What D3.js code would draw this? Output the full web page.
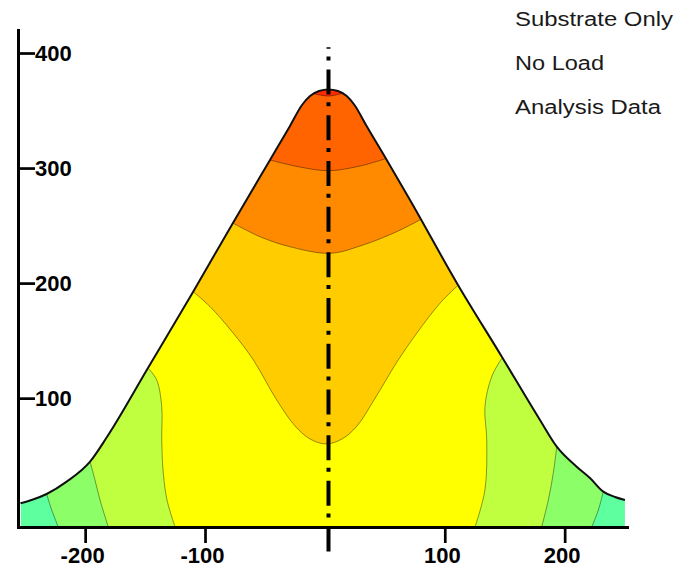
<!DOCTYPE html>
<html><head><meta charset="utf-8">
<script src="https://cdn.jsdelivr.net/npm/d3@7"></script>
<style>html,body{margin:0;padding:0;background:#fff;} svg{display:block;}</style>
</head><body>
<svg id="chart" width="682" height="570"></svg>
<script>
const xTicks = [-200, -100, 100, 200];
const yTicks = [100, 200, 300, 400];
const legendLines = ["Substrate Only", "No Load", "Analysis Data"];
const legendWidths = [158, 89, 146];
// band colours, lowest level first
const bandColors = ["#5dff9f", "#8cff68", "#bfff40", "#ffff00", "#ffcc00", "#ff8a00", "#ff6400", "#ff2a00"];
// outline of the substrate profile
const boundary = [[-253.9,8.6],[-243.5,11.9],[-232.1,16.7],[-215.4,27.4],[-195.9,44.8],[-181.8,66.2],[-147.6,126.2],[-110.0,192.3],[-76.7,252.2],[-45.8,307.0],[-29.1,336.6],[-19.1,354.8],[-12.4,362.6],[-4.9,367.0],[2.9,368.3],[10.9,367.0],[18.2,362.6],[24.7,354.8],[34.3,337.4],[51.6,307.0],[71.0,272.2],[111.0,198.4],[147.7,135.8],[179.4,81.0],[193.4,57.8],[210.0,40.4],[221.1,30.6],[232.2,18.7],[242.0,14.1],[250.3,11.5]];
// side contours (left / right, top to bottom)
const edge7Left = [[-232.1,16.7],[-227.9,2.8],[-222.4,-12]];
const edge7Right = [[232.2,18.7],[228.1,2.8],[222.6,-12]];
const edge6Left = [[-195.9,44.8],[-191.8,28.9],[-187.6,11.5],[-180.7,-12]];
const edge6Right = [[193.4,57.8],[190.5,34.7],[186.4,11.5],[180.8,-12]];
const edge5Left = [[-147.3,125.9],[-140.3,115.8],[-136.1,92.6],[-136.1,63.6],[-134.8,34.7],[-131.7,11.5],[-125.0,-12]];
const edge5Right = [[147.5,134.6],[139.1,118.6],[133.5,92.6],[135.0,63.6],[133.5,20.2],[125.2,-12]];
// arching contours (left edge to right edge)
const arch4 = [[-109.8,192.5],[-95.8,179.5],[-76.4,156.4],[-59.7,133.2],[-40.2,98.4],[-24.9,75.8],[-12.4,64.5],[0.9,60.2],[14.3,64.5],[26.8,75.8],[41.0,98.4],[60.1,131.4],[76.6,156.4],[96.0,182.5],[111.3,198.4]];
const arch3 = [[-76.4,252.0],[-54.1,240.3],[-29.1,231.6],[4.3,225.9],[31.8,233.1],[59.9,244.7],[79.3,254.9]];
const arch2 = [[-45.8,307.0],[-20.8,300.9],[3.4,297.7],[29.3,301.8],[51.6,308.5]];
const arch1 = [[-9.9,364.8],[3.4,362.6],[15.0,365.2]];
const centerLineX = 3;
const centerLineY = [405, -34];

const svg = d3.select("#chart");
const x = d3.scaleLinear().domain([-256, 252]).range([18, 627]);
const y = d3.scaleLinear().domain([-12, 420]).range([527, 30]);

const cLine = d3.line().x(d => x(d[0])).y(d => y(d[1])).curve(d3.curveCatmullRom.alpha(0.5));
const bLine = d3.line().x(d => x(d[0])).y(d => y(d[1])).curve(d3.curveMonotoneX);
const bArea = d3.area().x(d => x(d[0])).y0(y(-12)).y1(d => y(d[1])).curve(d3.curveMonotoneX);
const pt = p => `${x(p[0])},${y(p[1])}`;
const TOP = 430, BOT = -40;

function edgePath(left, right) {
  return "M" + pt([left[0][0], TOP]) +
    cLine(left).replace(/^M/, "L") +
    "L" + pt([left[left.length-1][0], BOT]) +
    "L" + pt([right[right.length-1][0], BOT]) +
    cLine(right.slice().reverse()).replace(/^M/, "L") +
    "L" + pt([right[0][0], TOP]) + "Z";
}
function archPath(p) {
  const a = p[0], b = p[p.length-1];
  return "M" + pt([a[0]-60, a[1]]) + cLine(p).replace(/^M/, "L") +
    "L" + pt([b[0]+60, b[1]]) + "L" + pt([b[0]+60, TOP]) + "L" + pt([a[0]-60, TOP]) + "Z";
}

svg.append("defs").append("clipPath").attr("id", "prof")
  .append("path").attr("d", bArea(boundary));

const plot = svg.append("g").attr("clip-path", "url(#prof)");
plot.append("path").attr("d", bArea(boundary)).attr("fill", bandColors[0]);
const regions = [
  edgePath(edge7Left, edge7Right),
  edgePath(edge6Left, edge6Right),
  edgePath(edge5Left, edge5Right),
  archPath(arch4), archPath(arch3), archPath(arch2), archPath(arch1)
];
regions.forEach((d, i) => plot.append("path").attr("d", d).attr("fill", bandColors[i+1]));

[edge7Left, edge7Right, edge6Left, edge6Right, edge5Left, edge5Right, arch4, arch3, arch2, arch1]
  .forEach(c => plot.append("path").attr("d", cLine(c)).attr("fill", "none")
    .attr("stroke", "#000").attr("stroke-opacity", 0.45).attr("stroke-width", 0.9));

svg.append("path").attr("d", bLine(boundary)).attr("fill", "none")
  .attr("stroke", "#111").attr("stroke-width", 2);

// axes
const yAxis = d3.axisRight(y).tickValues(yTicks).tickSize(17).tickSizeOuter(0).tickPadding(0).tickFormat(d => String(d));
const gy = svg.append("g").attr("transform", `translate(${x(-256)},0)`).call(yAxis);
const xAxis = d3.axisBottom(x).tickValues(xTicks).tickSize(16).tickSizeOuter(0).tickPadding(4).tickFormat(d => String(d));
const gx = svg.append("g").attr("transform", `translate(0,${y(-12)})`).call(xAxis);
[gx, gy].forEach(g => {
  g.select(".domain").attr("stroke", "#000").attr("stroke-width", 3).attr("stroke-linecap", "square");
  g.selectAll(".tick line").attr("stroke", "#000").attr("stroke-width", 2.7);
  g.selectAll(".tick text").attr("fill", "#000").style("font-family", "'Liberation Sans', Arial, sans-serif")
    .style("font-size", "22px").style("font-weight", "bold");
});
gx.selectAll(".tick text").attr("dx", -3);

// centre dash-dot line
svg.append("path")
  .attr("d", d3.line()([[x(centerLineX), y(centerLineY[0])], [x(centerLineX), y(centerLineY[1])]]))
  .attr("stroke", "#000").attr("stroke-width", 4)
  .attr("stroke-dasharray", "25,7.7,4,9").attr("stroke-dashoffset", 23.4);

// legend text
svg.selectAll("text.leg").data(legendLines).enter().append("text").attr("class", "leg")
  .attr("x", 515).attr("y", (d, i) => 26 + i * 44)
  .attr("textLength", (d, i) => legendWidths[i]).attr("lengthAdjust", "spacingAndGlyphs")
  .style("font-family", "'Liberation Sans', Arial, sans-serif").style("font-size", "20px")
  .attr("fill", "#1a1a1a").text(d => d);
</script>
</body></html>
